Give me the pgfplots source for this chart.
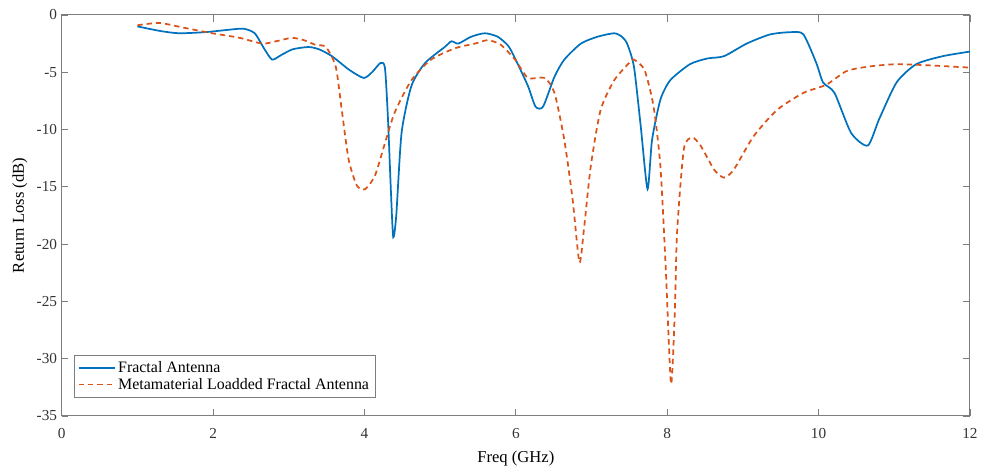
\documentclass[border=0pt]{standalone}
\usepackage{fontspec}
\setmainfont{Liberation Serif}
\usepackage{pgfplots}
\pgfplotsset{compat=1.18}
\definecolor{mblue}{rgb}{0,0.447,0.741}
\definecolor{morange}{rgb}{0.85,0.325,0.098}
\definecolor{axgray}{RGB}{125,125,125}
\begin{document}
\begin{tikzpicture}
\begin{axis}[
    scale only axis,
    width=684pt, height=302pt,
    xmin=0, xmax=12, ymin=-35, ymax=0,
    xtick={0,2,...,12},
    ytick={-35,-30,...,0},
    tick align=inside,
    major tick length=5pt,
    axis line style={axgray, line width=0.8pt},
    tick style={axgray, line width=0.6pt},
    every tick label/.append style={font=\fontsize{11.5}{13}\selectfont, text=black!80},
    xticklabel style={yshift=-6pt},
    /pgf/number format/assume math mode=true,
    xlabel={Freq (GHz)},
    ylabel={Return Loss (dB)},
    label style={font=\fontsize{12.5}{14}\selectfont},
    xlabel style={at={(axis description cs:0.5,-0.106)}, anchor=center},
    ylabel style={at={(axis description cs:-0.046,0.5)}, anchor=center},
    legend cell align=left,
    legend style={at={(rel axis cs:0.014,0.151)}, anchor=north west,
        font=\fontsize{12}{14}\selectfont, draw=axgray, row sep=-1.5pt,
        inner sep=2.5pt},
    legend image code/.code={\draw[#1, line width=1.2pt] (0cm,0cm) -- (0.95cm,0cm);},
]
\addplot[mblue, line width=1.3pt, smooth, tension=0.4] coordinates {
(1.00,-1.0) (1.30,-1.4) (1.55,-1.6) (1.90,-1.5) (2.20,-1.3) (2.40,-1.2)
(2.55,-1.6) (2.68,-3.0) (2.78,-3.9) (2.90,-3.5) (3.05,-3.0) (3.26,-2.8)
(3.40,-3.0) (3.57,-3.6) (3.80,-4.8) (3.99,-5.5) (4.10,-5.0) (4.21,-4.2)
(4.27,-4.6) (4.31,-9.0) (4.35,-15.5) (4.38,-19.4) (4.42,-17.5) (4.49,-10.3)
(4.62,-6.2) (4.80,-4.2) (5.06,-2.8) (5.15,-2.3) (5.24,-2.5) (5.41,-1.9)
(5.59,-1.6) (5.76,-1.9) (5.90,-2.7) (5.99,-3.8) (6.16,-6.2) (6.26,-8.0)
(6.36,-8.0) (6.51,-5.4) (6.64,-3.9) (6.86,-2.5) (7.08,-1.9) (7.30,-1.6)
(7.40,-1.9) (7.47,-2.5) (7.56,-4.5) (7.65,-9.7) (7.74,-15.2) (7.80,-10.9)
(7.91,-7.4) (8.04,-5.7) (8.30,-4.3) (8.53,-3.8) (8.75,-3.6) (9.05,-2.5)
(9.36,-1.7) (9.64,-1.5) (9.80,-1.7) (9.97,-4.2) (10.06,-5.9) (10.21,-6.8)
(10.43,-10.3) (10.65,-11.4) (10.80,-9.1) (11.03,-5.9) (11.29,-4.3)
(11.64,-3.6) (12.00,-3.2)
};
\addlegendentry{Fractal Antenna}
\addplot[morange, line width=1.3pt, dash pattern=on 4pt off 3pt, smooth, tension=0.4] coordinates {
(1.00,-0.9) (1.29,-0.7) (1.60,-1.1) (1.99,-1.6) (2.35,-2.0) (2.65,-2.5)
(2.83,-2.3) (3.04,-2.0) (3.20,-2.2) (3.35,-2.6) (3.49,-2.8) (3.62,-4.5)
(3.70,-8.3) (3.79,-12.6) (3.90,-14.9) (4.01,-15.2) (4.14,-14.0) (4.27,-11.2)
(4.40,-8.5) (4.62,-5.7) (4.88,-3.9) (5.20,-2.9) (5.46,-2.5) (5.63,-2.2)
(5.80,-2.6) (5.99,-3.9) (6.16,-5.5) (6.38,-5.5) (6.51,-6.8) (6.64,-10.9)
(6.75,-16.1) (6.84,-21.6) (6.90,-18.7) (6.99,-13.2) (7.12,-8.3) (7.30,-5.7)
(7.51,-4.1) (7.56,-3.9) (7.70,-4.8) (7.82,-8.0) (7.91,-13.2) (7.98,-22.0)
(8.05,-32.2) (8.10,-26.0) (8.13,-19.0) (8.22,-11.7) (8.33,-10.7) (8.44,-11.4)
(8.62,-13.5) (8.75,-14.2) (8.88,-13.5) (9.14,-10.6) (9.45,-8.3) (9.80,-6.8)
(10.10,-6.1) (10.37,-4.9) (10.67,-4.5) (11.03,-4.3) (11.46,-4.4) (12.00,-4.6)
};
\addlegendentry{Metamaterial Loadded Fractal Antenna}
\coordinate (bl) at (rel axis cs:0,0);
\coordinate (tr) at (rel axis cs:1,1);
\end{axis}
% invisible corners so the margins match the reference
\path (bl) ++(-46.5pt,-39pt) coordinate (blx);
\path (tr) ++(3pt,11.25pt) coordinate (trx);
\path[draw=none] (blx) rectangle (trx);
\end{tikzpicture}
\end{document}
